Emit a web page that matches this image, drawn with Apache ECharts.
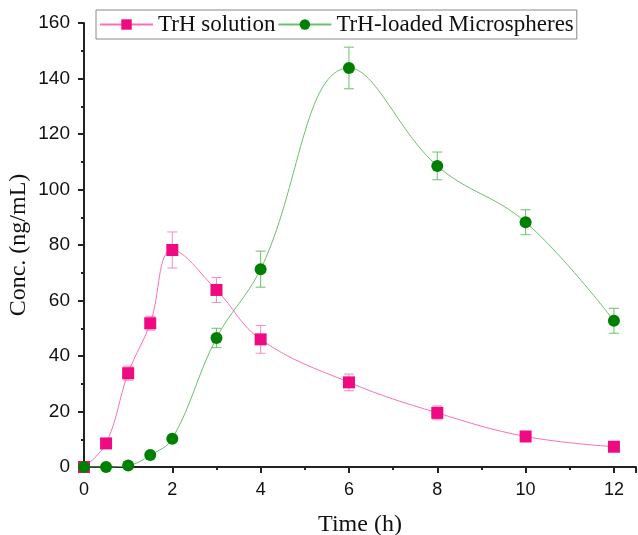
<!DOCTYPE html>
<html><head><meta charset="utf-8">
<script src="https://cdn.jsdelivr.net/npm/echarts@6/dist/echarts.min.js"></script>
<style>html,body{margin:0;padding:0;background:#fff}#c{width:638px;height:535px}</style>
</head><body><div id="c"></div>
<script>
const times = [0, 0.5, 1, 1.5, 2, 3, 4, 6, 8, 10, 12];
const solution = [0, 8.5, 33.8, 51.8, 78.2, 63.8, 46.0, 30.5, 19.5, 11.0, 7.3];
const solutionErr = [0, 0.5, 2.5, 2.5, 6.5, 4.5, 5.0, 3.0, 2.5, 1.5, 0.8];
const micro = [0, 0, 0.5, 4.3, 10.2, 46.5, 71.3, 143.8, 108.5, 88.2, 52.7];
const microErr = [0, 0, 0.3, 0.5, 0.8, 3.5, 6.5, 7.5, 5.0, 4.5, 4.5];
const xTicks = [0, 2, 4, 6, 8, 10, 12];

const pinkMark = '#EE0A80', pinkLine = '#FF6EB8', pinkErr = '#F58CC0';
const greenMark = '#008000', greenLine = '#6DBF6D', greenErr = '#6DBF6D';

function errSeries(name, ys, errs, color) {
  return {
    type: 'custom', name: name + '_err', silent: true, z: 1,
    data: times.map((t, i) => [t, ys[i] - errs[i], ys[i] + errs[i]]),
    renderItem: (params, api) => {
      const lo = api.coord([api.value(0), api.value(1)]);
      const hi = api.coord([api.value(0), api.value(2)]);
      const w = 5;
      const st = { stroke: color, lineWidth: 1 };
      return { type: 'group', children: [
        { type: 'line', shape: { x1: lo[0], y1: lo[1], x2: hi[0], y2: hi[1] }, style: st },
        { type: 'line', shape: { x1: lo[0]-w, y1: lo[1], x2: lo[0]+w, y2: lo[1] }, style: st },
        { type: 'line', shape: { x1: hi[0]-w, y1: hi[1], x2: hi[0]+w, y2: hi[1] }, style: st }
      ]};
    }
  };
}

const chart = echarts.init(document.getElementById('c'));
chart.setOption({
  animation: false,
  backgroundColor: '#fff',
  grid: { left: 84, right: 2, top: 23, bottom: 68, containLabel: false, outerBoundsMode: 'none' },
  legend: {
    left: 96, top: 10, padding: [3, 3, 3, 3], itemGap: 2,
    itemWidth: 53, itemHeight: 13,
    borderColor: '#888', borderWidth: 1,
    textStyle: { fontFamily: 'Liberation Serif', fontSize: 23, color: '#111' },
    data: ['TrH solution', 'TrH-loaded Microspheres']
  },
  xAxis: {
    type: 'value', min: 0, max: 12.5, interval: 2,
    name: 'Time (h)', nameLocation: 'middle', nameGap: 46, nameMoveOverlap: false,
    nameTextStyle: { fontFamily: 'Liberation Serif', fontSize: 24, color: '#111' },
    axisLine: { lineStyle: { color: '#222', width: 2 } },
    axisTick: { inside: false, length: 6, lineStyle: { color: '#222', width: 2 } },
    minorTick: { show: true, splitNumber: 2, length: 3, lineStyle: { color: '#222', width: 2 } },
    axisLabel: { fontFamily: 'Liberation Sans', fontSize: 18, color: '#111', margin: 14,
      formatter: v => xTicks.includes(v) ? String(v) : '' },
    splitLine: { show: false }
  },
  yAxis: {
    type: 'value', min: 0, max: 160, interval: 20,
    name: 'Conc. (ng/mL)', nameLocation: 'middle', nameGap: 53, nameMoveOverlap: false,
    nameTextStyle: { fontFamily: 'Liberation Serif', fontSize: 24, color: '#111' },
    axisLine: { show: true, lineStyle: { color: '#222', width: 2 } },
    axisTick: { show: true, length: 6, lineStyle: { color: '#222', width: 2 } },
    minorTick: { show: true, splitNumber: 2, length: 3, lineStyle: { color: '#222', width: 2 } },
    axisLabel: { fontFamily: 'Liberation Sans', fontSize: 19, color: '#111', margin: 14 },
    splitLine: { show: false }
  },
  series: [
    errSeries('TrH solution', solution, solutionErr, pinkErr),
    errSeries('TrH-loaded Microspheres', micro, microErr, greenErr),
    {
      type: 'line', name: 'TrH solution', z: 3,
      data: times.map((t, i) => [t, solution[i]]),
      smooth: 0.4, symbol: 'rect', symbolSize: 12,
      lineStyle: { color: pinkLine, width: 1 },
      itemStyle: { color: pinkMark }
    },
    {
      type: 'line', name: 'TrH-loaded Microspheres', z: 3,
      data: times.map((t, i) => [t, micro[i]]),
      smooth: 0.4, symbol: 'circle', symbolSize: 12,
      lineStyle: { color: greenLine, width: 1 },
      itemStyle: { color: greenMark }
    }
  ]
});
</script></body></html>
